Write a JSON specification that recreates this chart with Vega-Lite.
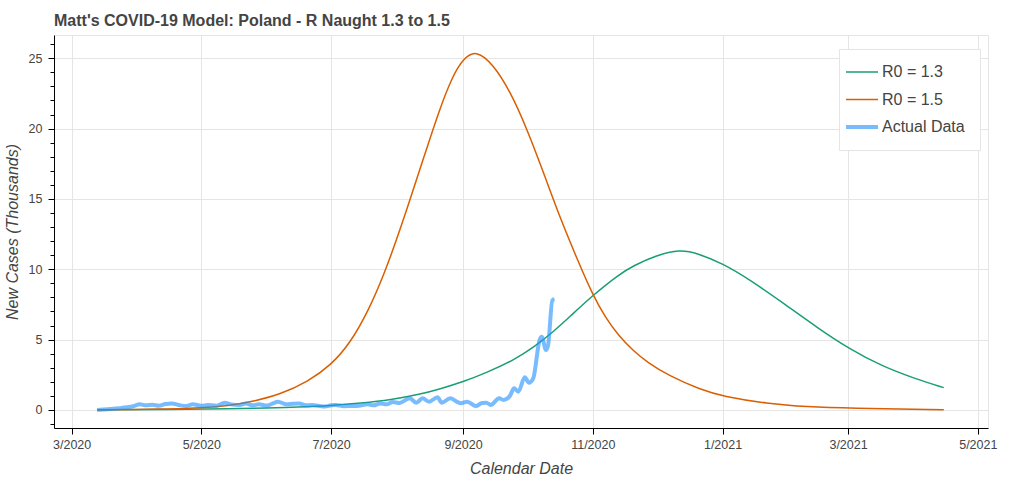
{
  "$schema": "https://vega.github.io/schema/vega-lite/v6.json",
  "autosize": {"type": "none"},
  "padding": {"left": 54, "top": 35, "right": 36, "bottom": 54},
  "width": 934,
  "height": 393,
  "background": "white",
  "title": {
    "text": "Matt's COVID-19 Model: Poland - R Naught 1.3 to 1.5",
    "anchor": "start",
    "frame": "group",
    "baseline": "alphabetic",
    "offset": 8,
    "dy": 14.7,
    "font": "Liberation Sans",
    "fontSize": 16,
    "fontWeight": "bold",
    "color": "#444444"
  },
  "config": {
    "view": {"stroke": "#e5e5e5"},
    "font": "Liberation Sans",
    "axis": {
      "labelFont": "Liberation Sans",
      "labelFontSize": 12.5,
      "labelColor": "#444444",
      "titleFont": "Liberation Sans",
      "titleFontSize": 16,
      "titleFontWeight": "normal",
      "titleFontStyle": "italic",
      "titleColor": "#444444",
      "domainColor": "#000000",
      "tickColor": "#000000",
      "gridColor": "#e5e5e5",
      "gridOpacity": 1
    }
  },
  "data": {
    "values": [
      {"date": "2020-03-13", "value": 0.01, "series": "R0 = 1.3"},
      {"date": "2020-04-15", "value": 0.03, "series": "R0 = 1.3"},
      {"date": "2020-05-15", "value": 0.08, "series": "R0 = 1.3"},
      {"date": "2020-06-01", "value": 0.14, "series": "R0 = 1.3"},
      {"date": "2020-06-15", "value": 0.21, "series": "R0 = 1.3"},
      {"date": "2020-07-01", "value": 0.31, "series": "R0 = 1.3"},
      {"date": "2020-07-15", "value": 0.48, "series": "R0 = 1.3"},
      {"date": "2020-07-29", "value": 0.71, "series": "R0 = 1.3"},
      {"date": "2020-08-12", "value": 1.12, "series": "R0 = 1.3"},
      {"date": "2020-08-21", "value": 1.49, "series": "R0 = 1.3"},
      {"date": "2020-09-01", "value": 2.0, "series": "R0 = 1.3"},
      {"date": "2020-09-12", "value": 2.65, "series": "R0 = 1.3"},
      {"date": "2020-09-25", "value": 3.55, "series": "R0 = 1.3"},
      {"date": "2020-10-05", "value": 4.55, "series": "R0 = 1.3"},
      {"date": "2020-10-13", "value": 5.5, "series": "R0 = 1.3"},
      {"date": "2020-10-21", "value": 6.6, "series": "R0 = 1.3"},
      {"date": "2020-11-01", "value": 8.15, "series": "R0 = 1.3"},
      {"date": "2020-11-13", "value": 9.6, "series": "R0 = 1.3"},
      {"date": "2020-11-20", "value": 10.25, "series": "R0 = 1.3"},
      {"date": "2020-12-01", "value": 11.0, "series": "R0 = 1.3"},
      {"date": "2020-12-12", "value": 11.4, "series": "R0 = 1.3"},
      {"date": "2020-12-20", "value": 11.15, "series": "R0 = 1.3"},
      {"date": "2021-01-01", "value": 10.42, "series": "R0 = 1.3"},
      {"date": "2021-01-14", "value": 9.24, "series": "R0 = 1.3"},
      {"date": "2021-01-30", "value": 7.55, "series": "R0 = 1.3"},
      {"date": "2021-02-15", "value": 5.8, "series": "R0 = 1.3"},
      {"date": "2021-03-01", "value": 4.4, "series": "R0 = 1.3"},
      {"date": "2021-03-17", "value": 3.1, "series": "R0 = 1.3"},
      {"date": "2021-04-02", "value": 2.2, "series": "R0 = 1.3"},
      {"date": "2021-04-15", "value": 1.59, "series": "R0 = 1.3"},

      {"date": "2020-03-13", "value": 0.02, "series": "R0 = 1.5"},
      {"date": "2020-04-01", "value": 0.04, "series": "R0 = 1.5"},
      {"date": "2020-04-15", "value": 0.07, "series": "R0 = 1.5"},
      {"date": "2020-05-01", "value": 0.14, "series": "R0 = 1.5"},
      {"date": "2020-05-15", "value": 0.33, "series": "R0 = 1.5"},
      {"date": "2020-05-25", "value": 0.6, "series": "R0 = 1.5"},
      {"date": "2020-06-07", "value": 1.1, "series": "R0 = 1.5"},
      {"date": "2020-06-20", "value": 2.0, "series": "R0 = 1.5"},
      {"date": "2020-07-01", "value": 3.2, "series": "R0 = 1.5"},
      {"date": "2020-07-10", "value": 4.75, "series": "R0 = 1.5"},
      {"date": "2020-07-19", "value": 7.2, "series": "R0 = 1.5"},
      {"date": "2020-07-26", "value": 9.7, "series": "R0 = 1.5"},
      {"date": "2020-08-01", "value": 12.2, "series": "R0 = 1.5"},
      {"date": "2020-08-07", "value": 14.9, "series": "R0 = 1.5"},
      {"date": "2020-08-13", "value": 17.7, "series": "R0 = 1.5"},
      {"date": "2020-08-21", "value": 21.4, "series": "R0 = 1.5"},
      {"date": "2020-08-27", "value": 23.7, "series": "R0 = 1.5"},
      {"date": "2020-09-01", "value": 24.95, "series": "R0 = 1.5"},
      {"date": "2020-09-07", "value": 25.6, "series": "R0 = 1.5"},
      {"date": "2020-09-15", "value": 24.6, "series": "R0 = 1.5"},
      {"date": "2020-09-23", "value": 22.7, "series": "R0 = 1.5"},
      {"date": "2020-10-01", "value": 20.0, "series": "R0 = 1.5"},
      {"date": "2020-10-09", "value": 16.8, "series": "R0 = 1.5"},
      {"date": "2020-10-17", "value": 13.5, "series": "R0 = 1.5"},
      {"date": "2020-10-25", "value": 10.6, "series": "R0 = 1.5"},
      {"date": "2020-11-01", "value": 8.17, "series": "R0 = 1.5"},
      {"date": "2020-11-07", "value": 6.55, "series": "R0 = 1.5"},
      {"date": "2020-11-13", "value": 5.3, "series": "R0 = 1.5"},
      {"date": "2020-11-20", "value": 4.2, "series": "R0 = 1.5"},
      {"date": "2020-11-27", "value": 3.35, "series": "R0 = 1.5"},
      {"date": "2020-12-06", "value": 2.5, "series": "R0 = 1.5"},
      {"date": "2020-12-22", "value": 1.42, "series": "R0 = 1.5"},
      {"date": "2021-01-01", "value": 0.98, "series": "R0 = 1.5"},
      {"date": "2021-01-22", "value": 0.45, "series": "R0 = 1.5"},
      {"date": "2021-02-10", "value": 0.22, "series": "R0 = 1.5"},
      {"date": "2021-03-01", "value": 0.12, "series": "R0 = 1.5"},
      {"date": "2021-04-15", "value": 0.02, "series": "R0 = 1.5"},

      {"date": "2020-03-13", "value": 0.0, "series": "Actual Data"},
      {"date": "2020-03-18", "value": 0.05, "series": "Actual Data"},
      {"date": "2020-03-23", "value": 0.12, "series": "Actual Data"},
      {"date": "2020-03-27", "value": 0.19, "series": "Actual Data"},
      {"date": "2020-03-30", "value": 0.27, "series": "Actual Data"},
      {"date": "2020-04-02", "value": 0.4, "series": "Actual Data"},
      {"date": "2020-04-05", "value": 0.33, "series": "Actual Data"},
      {"date": "2020-04-08", "value": 0.38, "series": "Actual Data"},
      {"date": "2020-04-11", "value": 0.3, "series": "Actual Data"},
      {"date": "2020-04-14", "value": 0.42, "series": "Actual Data"},
      {"date": "2020-04-17", "value": 0.47, "series": "Actual Data"},
      {"date": "2020-04-21", "value": 0.33, "series": "Actual Data"},
      {"date": "2020-04-24", "value": 0.28, "series": "Actual Data"},
      {"date": "2020-04-27", "value": 0.4, "series": "Actual Data"},
      {"date": "2020-05-01", "value": 0.3, "series": "Actual Data"},
      {"date": "2020-05-04", "value": 0.36, "series": "Actual Data"},
      {"date": "2020-05-08", "value": 0.3, "series": "Actual Data"},
      {"date": "2020-05-12", "value": 0.52, "series": "Actual Data"},
      {"date": "2020-05-15", "value": 0.4, "series": "Actual Data"},
      {"date": "2020-05-19", "value": 0.35, "series": "Actual Data"},
      {"date": "2020-05-22", "value": 0.47, "series": "Actual Data"},
      {"date": "2020-05-25", "value": 0.33, "series": "Actual Data"},
      {"date": "2020-05-28", "value": 0.4, "series": "Actual Data"},
      {"date": "2020-06-01", "value": 0.32, "series": "Actual Data"},
      {"date": "2020-06-06", "value": 0.59, "series": "Actual Data"},
      {"date": "2020-06-10", "value": 0.4, "series": "Actual Data"},
      {"date": "2020-06-13", "value": 0.45, "series": "Actual Data"},
      {"date": "2020-06-16", "value": 0.47, "series": "Actual Data"},
      {"date": "2020-06-19", "value": 0.33, "series": "Actual Data"},
      {"date": "2020-06-22", "value": 0.36, "series": "Actual Data"},
      {"date": "2020-06-25", "value": 0.3, "series": "Actual Data"},
      {"date": "2020-06-28", "value": 0.24, "series": "Actual Data"},
      {"date": "2020-07-01", "value": 0.33, "series": "Actual Data"},
      {"date": "2020-07-03", "value": 0.36, "series": "Actual Data"},
      {"date": "2020-07-07", "value": 0.27, "series": "Actual Data"},
      {"date": "2020-07-10", "value": 0.28, "series": "Actual Data"},
      {"date": "2020-07-14", "value": 0.3, "series": "Actual Data"},
      {"date": "2020-07-18", "value": 0.4, "series": "Actual Data"},
      {"date": "2020-07-21", "value": 0.33, "series": "Actual Data"},
      {"date": "2020-07-24", "value": 0.47, "series": "Actual Data"},
      {"date": "2020-07-27", "value": 0.4, "series": "Actual Data"},
      {"date": "2020-07-30", "value": 0.57, "series": "Actual Data"},
      {"date": "2020-08-02", "value": 0.5, "series": "Actual Data"},
      {"date": "2020-08-07", "value": 0.83, "series": "Actual Data"},
      {"date": "2020-08-10", "value": 0.52, "series": "Actual Data"},
      {"date": "2020-08-13", "value": 0.83, "series": "Actual Data"},
      {"date": "2020-08-16", "value": 0.59, "series": "Actual Data"},
      {"date": "2020-08-20", "value": 0.9, "series": "Actual Data"},
      {"date": "2020-08-22", "value": 0.52, "series": "Actual Data"},
      {"date": "2020-08-26", "value": 0.83, "series": "Actual Data"},
      {"date": "2020-08-29", "value": 0.6, "series": "Actual Data"},
      {"date": "2020-08-31", "value": 0.48, "series": "Actual Data"},
      {"date": "2020-09-03", "value": 0.59, "series": "Actual Data"},
      {"date": "2020-09-07", "value": 0.28, "series": "Actual Data"},
      {"date": "2020-09-10", "value": 0.5, "series": "Actual Data"},
      {"date": "2020-09-12", "value": 0.52, "series": "Actual Data"},
      {"date": "2020-09-14", "value": 0.36, "series": "Actual Data"},
      {"date": "2020-09-18", "value": 0.83, "series": "Actual Data"},
      {"date": "2020-09-20", "value": 0.71, "series": "Actual Data"},
      {"date": "2020-09-23", "value": 1.0, "series": "Actual Data"},
      {"date": "2020-09-25", "value": 1.54, "series": "Actual Data"},
      {"date": "2020-09-27", "value": 1.3, "series": "Actual Data"},
      {"date": "2020-09-30", "value": 2.32, "series": "Actual Data"},
      {"date": "2020-10-02", "value": 1.94, "series": "Actual Data"},
      {"date": "2020-10-04", "value": 2.25, "series": "Actual Data"},
      {"date": "2020-10-07", "value": 4.98, "series": "Actual Data"},
      {"date": "2020-10-08", "value": 5.2, "series": "Actual Data"},
      {"date": "2020-10-10", "value": 4.26, "series": "Actual Data"},
      {"date": "2020-10-11", "value": 4.62, "series": "Actual Data"},
      {"date": "2020-10-13", "value": 7.8, "series": "Actual Data"},
      {"date": "2020-10-14", "value": 7.87, "series": "Actual Data"}
    ]
  },
  "encoding": {
    "x": {
      "field": "date",
      "type": "temporal",
      "title": "Calendar Date",
      "scale": {
        "type": "utc",
        "domain": [
          {"year": 2020, "month": 2, "date": 21, "hours": 17, "utc": true},
          {"year": 2021, "month": 5, "date": 5, "hours": 19, "utc": true}
        ]
      },
      "axis": {
        "values": [
          {"year": 2020, "month": 3, "date": 1, "utc": true},
          {"year": 2020, "month": 5, "date": 1, "utc": true},
          {"year": 2020, "month": 7, "date": 1, "utc": true},
          {"year": 2020, "month": 9, "date": 1, "utc": true},
          {"year": 2020, "month": 11, "date": 1, "utc": true},
          {"year": 2021, "month": 1, "date": 1, "utc": true},
          {"year": 2021, "month": 3, "date": 1, "utc": true},
          {"year": 2021, "month": 5, "date": 1, "utc": true}
        ],
        "format": "%-m/%Y",
        "tickSize": 6,
        "labelPadding": 4,
        "titlePadding": 10,
        "labelFlush": false,
        "labelOverlap": false
      }
    },
    "color": {
      "field": "series",
      "type": "nominal",
      "scale": {
        "domain": ["R0 = 1.3", "R0 = 1.5", "Actual Data"],
        "range": ["#1b9e77", "#d95f02", "#1e90ff"]
      },
      "legend": {
        "title": null,
        "orient": "none",
        "legendX": 785,
        "legendY": 14,
        "fillColor": "white",
        "strokeColor": "#e5e5e5",
        "padding": 15,
        "symbolType": "stroke",
        "symbolSize": 1024,
        "rowPadding": 11.5,
        "labelOffset": 12,
        "labelFont": "Liberation Sans",
        "labelFontSize": 16,
        "labelColor": "#444444",
        "labelLimit": 200,
        "encode": {
          "symbols": {
            "update": {
              "strokeWidth": {"signal": "datum.value === 'Actual Data' ? 4 : 1.5"},
              "opacity": {"signal": "datum.value === 'Actual Data' ? 0.6 : 1"}
            }
          }
        }
      }
    }
  },
  "resolve": {"axis": {"y": "independent"}},
  "layer": [
    {
      "transform": [{"filter": "datum.series !== 'Actual Data'"}],
      "mark": {"type": "line", "interpolate": "basis", "strokeWidth": 1.5},
      "encoding": {
        "y": {
          "field": "value",
          "type": "quantitative",
          "title": "New Cases (Thousands)",
          "scale": {"domain": [-1.28, 26.65], "nice": false, "zero": false},
          "axis": {
            "values": [0, 5, 10, 15, 20, 25],
            "tickSize": 6,
            "labelPadding": 6,
            "titlePadding": 8,
            "orient": "left"
          }
        }
      }
    },
    {
      "transform": [{"filter": "datum.series === 'Actual Data'"}],
      "mark": {"type": "line", "interpolate": "monotone", "strokeWidth": 4, "opacity": 0.6},
      "encoding": {
        "y": {
          "field": "value",
          "type": "quantitative",
          "axis": {
            "orient": "left",
            "title": null,
            "values": [-1, 1, 2, 3, 4, 6, 7, 8, 9, 11, 12, 13, 14, 16, 17, 18, 19, 21, 22, 23, 24, 26],
            "labels": false,
            "domain": false,
            "grid": false,
            "tickSize": 4
          }
        }
      }
    }
  ]
}
